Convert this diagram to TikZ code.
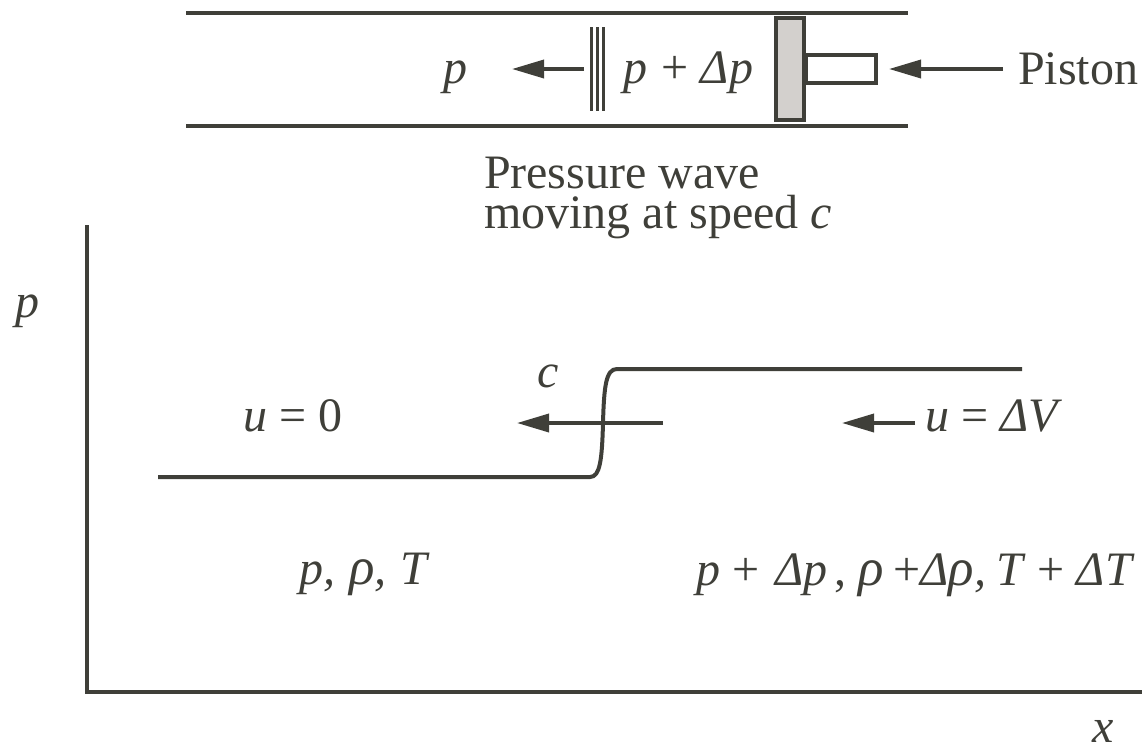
\documentclass[tikz,border=0pt]{standalone}
\usepackage{fontspec}
\setmainfont{Liberation Serif}
\usetikzlibrary{arrows.meta}
\definecolor{ink}{HTML}{3F3F39}
\definecolor{pist}{HTML}{D3D0CD}
\newcommand{\rh}{{\fontsize{53}{48}\selectfont ρ}}
\tikzset{
  lbl/.style={anchor=base west,inner sep=0pt,outer sep=0pt,text=ink,font=\fontsize{48}{48}\selectfont},
  heavy/.style={draw=ink,line width=4pt},
  arrowline/.style={draw=ink,line width=3.6pt,-{Triangle[length=32pt,width=18pt,color=ink]}},
  wave/.style={draw=ink,line width=3pt},
  pistonhead/.style={draw=ink,line width=4pt,fill=pist,minimum width=28pt,minimum height=102pt,inner sep=0pt},
  pistonrod/.style={draw=ink,line width=3.6pt,fill=white,minimum width=70pt,minimum height=28pt,inner sep=0pt,anchor=west}
}
\begin{document}
\begin{tikzpicture}[x=1pt,y=-1pt]
\useasboundingbox (0,0) rectangle (1142,745);
% tube
\coordinate (t1) at (186,12.5); \coordinate (t2) at (908,12.5);
\coordinate (b1) at (186,126); \coordinate (b2) at (908,126);
\draw[heavy] (t1) -- (t2);
\draw[heavy] (b1) -- (b2);
% wave front
\foreach \n/\xx in {a/591,b/597,c/603}{
  \coordinate (w\n1) at (\xx,27); \coordinate (w\n2) at (\xx,111);
  \draw[wave] (w\n1) -- (w\n2);}
% piston
\node[pistonrod] (rod) at (804,69) {};
\node[pistonhead] (head) at (790,69) {};
% top labels
\node[lbl] (p1) at (443,83.5) {\textit{p}};
\node[lbl] (pd) at (623,83.5) {\textit{p}\hspace{2pt} + \textit{Δ\hspace{1pt}p}};
\node[lbl] (pis) at (1018,84) {Piston};
\coordinate (a1s) at (584,69); \coordinate (a1e) at (512,69);
\draw[arrowline] (a1s) -- (a1e);
\coordinate (a2s) at (1003,69); \coordinate (a2e) at (889,69);
\draw[arrowline] (a2s) -- (a2e);
\node[lbl] (pw1) at (484,188) {Pressure wave};
\node[lbl] (pw2) at (484,228) {moving at speed \textit{c}};
% axes
\coordinate (ax0) at (87,225); \coordinate (ax1) at (87,692); \coordinate (ax2) at (1142,692);
\draw[heavy] (ax0) -- (ax1) -- (ax2);
\node[lbl] (py) at (15,317) {\textit{p}};
\node[lbl] (xx) at (1092,742) {\textit{x}};
% pressure step
\coordinate (s0) at (158,477); \coordinate (s1) at (590,477); \coordinate (s2) at (617,369); \coordinate (s3) at (1022,369);
\draw[heavy] (s0) -- (s1) .. controls (600,477) and (602,460) .. (603,423) .. controls (604,386) and (606,369) .. (s2) -- (s3);
% labels
\node[lbl] (u0) at (243,431) {\textit{u} = 0};
\node[lbl] (cc) at (537,387) {\textit{c}};
\node[lbl] (uv) at (925,431) {\textit{u} = \textit{ΔV}};
\coordinate (a3s) at (663,423); \coordinate (a3e) at (517,423);
\draw[arrowline] (a3s) -- (a3e);
\coordinate (a4s) at (915,423); \coordinate (a4e) at (842,423);
\draw[arrowline] (a4s) -- (a4e);
\node[lbl] (l1) at (299,584.5) {\textit{p,\hspace{2pt} \rh, \hspace{2pt}T}};
\node[lbl] (l2) at (696,585) {\textit{p} + \hspace{4pt}\textit{Δp}\hspace{-5pt} , \textit{\rh} \hspace{-2pt}+\textit{Δ\rh,\hspace{-2pt} T} + \textit{ΔT}};
\end{tikzpicture}
\end{document}
